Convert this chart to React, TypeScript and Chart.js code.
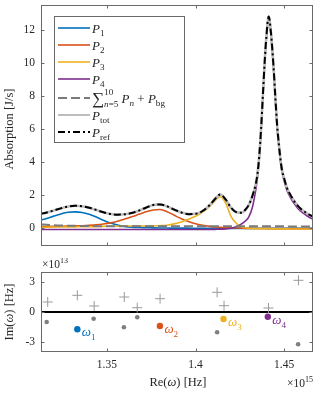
import React, { useEffect, useRef } from "react";
import { Chart, registerables } from "chart.js";

Chart.register(...registerables);

// ---------- data (frequency in units of 1e15 Hz) ----------
const FREQ = [
  1.3128, 1.316, 1.32, 1.324, 1.328, 1.332, 1.336, 1.34, 1.344, 1.348, 1.352, 1.356, 1.36, 1.364,
  1.368, 1.372, 1.376, 1.38, 1.384, 1.388, 1.392, 1.396, 1.4, 1.404, 1.408, 1.411, 1.414, 1.417,
  1.42, 1.423, 1.426, 1.428, 1.43, 1.432, 1.434, 1.435, 1.436, 1.437, 1.438, 1.439, 1.44, 1.4413,
  1.4425, 1.444, 1.445, 1.446, 1.447, 1.4485, 1.45, 1.4515, 1.4535, 1.4555, 1.458, 1.46, 1.463, 1.4663,
];

const P1 = [
  0.47, 0.57, 0.71, 0.84, 0.94, 0.97, 0.93, 0.82, 0.66, 0.46, 0.29, 0.17, 0.09, 0.04,
  0.02, 0.01, 0.0, -0.01, -0.01, -0.02, -0.02, -0.02, -0.03, -0.03, -0.03, -0.03, -0.03, -0.03,
  -0.03, -0.03, -0.03, -0.03, -0.03, -0.03, -0.03, -0.03, -0.03, -0.03, -0.03, -0.03, -0.03, -0.03,
  -0.03, -0.03, -0.03, -0.03, -0.03, -0.03, -0.03, -0.03, -0.03, -0.03, -0.03, -0.03, -0.03, -0.03,
];

const P2 = [
  0.08, 0.08, 0.09, 0.1, 0.11, 0.12, 0.13, 0.15, 0.18, 0.23, 0.3, 0.4, 0.53, 0.67,
  0.82, 0.97, 1.08, 1.11, 0.98, 0.76, 0.55, 0.38, 0.25, 0.16, 0.09, 0.05, 0.03, 0.01,
  0.0, -0.01, -0.02, -0.03, -0.03, -0.04, -0.04, -0.04, -0.04, -0.04, -0.04, -0.04, -0.04, -0.05,
  -0.05, -0.05, -0.05, -0.05, -0.05, -0.05, -0.05, -0.05, -0.05, -0.05, -0.05, -0.05, -0.05, -0.05,
];

const P3 = [
  0.04, 0.04, 0.05, 0.05, 0.06, 0.06, 0.07, 0.07, 0.08, 0.09, 0.1, 0.1, 0.11, 0.11,
  0.11, 0.11, 0.12, 0.13, 0.16, 0.24, 0.36, 0.52, 0.7, 0.95, 1.3, 1.65, 1.88, 1.5,
  0.7, 0.28, 0.07, 0.0, -0.03, -0.04, -0.05, -0.05, -0.05, -0.05, -0.05, -0.05, -0.05, -0.05,
  -0.06, -0.06, -0.06, -0.06, -0.06, -0.06, -0.06, -0.06, -0.07, -0.07, -0.07, -0.07, -0.07, -0.07,
];

const P4 = [
  -0.1, -0.1, -0.1, -0.1, -0.1, -0.1, -0.1, -0.1, -0.1, -0.1, -0.1, -0.1, -0.1, -0.1,
  -0.1, -0.1, -0.1, -0.1, -0.1, -0.1, -0.1, -0.1, -0.1, -0.1, -0.1, -0.09, -0.08, -0.06,
  -0.03, 0.06, 0.24, 0.4, 0.65, 1.2, 2.3, 3.05, 4.2, 5.85, 7.85, 9.85, 11.45, 12.65,
  11.75, 9.65, 7.85, 6.15, 4.95, 3.55, 2.85, 2.3, 1.85, 1.5, 1.15, 0.95, 0.72, 0.52,
];

const P_SUM_BG = [
  0.22, 0.19, 0.16, 0.14, 0.13, 0.12, 0.11, 0.11, 0.1, 0.1, 0.1, 0.1, 0.1, 0.1,
  0.1, 0.1, 0.1, 0.1, 0.1, 0.1, 0.1, 0.1, 0.1, 0.1, 0.1, 0.1, 0.1, 0.1,
  0.1, 0.1, 0.1, 0.1, 0.1, 0.1, 0.1, 0.1, 0.1, 0.1, 0.1, 0.1, 0.1, 0.1,
  0.1, 0.1, 0.09, 0.09, 0.09, 0.09, 0.09, 0.08, 0.08, 0.08, 0.08, 0.08, 0.08, 0.08,
];

const P_TOT = [
  0.85, 0.93, 1.05, 1.18, 1.29, 1.34, 1.31, 1.22, 1.08, 0.94, 0.84, 0.8, 0.82, 0.9,
  1.04, 1.22, 1.38, 1.42, 1.3, 1.1, 0.93, 0.83, 0.85, 1.02, 1.38, 1.75, 2.02, 1.72,
  1.22, 0.95, 0.92, 1.08, 1.38, 1.9, 2.65, 3.3, 4.4, 6.0, 8.0, 10.0, 11.6, 12.8,
  11.9, 9.8, 8.0, 6.3, 5.1, 3.7, 3.0, 2.45, 2.0, 1.65, 1.3, 1.1, 0.87, 0.67,
];

const P_REF = [
  0.85, 0.93, 1.05, 1.18, 1.29, 1.34, 1.31, 1.22, 1.08, 0.94, 0.84, 0.8, 0.82, 0.9,
  1.04, 1.22, 1.38, 1.42, 1.3, 1.1, 0.93, 0.83, 0.85, 1.02, 1.38, 1.75, 2.02, 1.72,
  1.22, 0.95, 0.92, 1.08, 1.38, 1.9, 2.65, 3.3, 4.4, 6.0, 8.0, 10.0, 11.6, 12.8,
  11.9, 9.8, 8.0, 6.3, 5.1, 3.7, 3.0, 2.45, 2.0, 1.65, 1.3, 1.1, 0.87, 0.67,
];

// poles: Re in 1e15 Hz, Im in 1e13 Hz
const PLUS_RE = [1.3166, 1.3333, 1.3428, 1.3598, 1.3671, 1.38, 1.4122, 1.4161, 1.4412, 1.4581];
const PLUS_IM = [1.0, 1.67, 0.6, 1.5, 0.43, 1.33, 1.97, 0.63, 0.4, 3.17];
const GRAY_RE = [1.316, 1.3425, 1.3596, 1.3671, 1.4122, 1.4579];
const GRAY_IM = [-1.0, -0.67, -1.53, -0.53, -2.03, -3.23];
const OMEGA_RE = [1.3333, 1.3799, 1.4158, 1.4408];
const OMEGA_IM = [-1.73, -1.4, -0.7, -0.47];
const OMEGA_SUBS = ["1", "2", "3", "4"];

const X_MIN = 1.3128;
const X_MAX = 1.4663;
const X_TICKS = [1.35, 1.4, 1.45];
const X_TICK_LABELS = ["1.35", "1.4", "1.45"];
const Y_TOP_MIN = -1.1;
const Y_TOP_MAX = 13.5;
const Y_TOP_TICKS = [0, 2, 4, 6, 8, 10, 12];
const Y_TOP_TICK_LABELS = ["0", "2", "4", "6", "8", "10", "12"];
const Y_BOT_MIN = -4;
const Y_BOT_MAX = 4;
const Y_BOT_TICKS = [-3, 0, 3];
const Y_BOT_TICK_LABELS = ["-3", "0", "3"];

// ---------- styles ----------
const SERIF = '"Liberation Serif", "DejaVu Serif", "Times New Roman", serif';
const TXT = "#262626";
const FRAME = "#6a6a6a";
const C_BLUE = "#0072BD";
const C_ORANGE = "#D95319";
const C_YELLOW = "#EDB120";
const C_PURPLE = "#7E2F8E";
const C_DASH = "#7a7a7a";
const C_TOT = "#bdbdbd";
const OMEGA_COLORS = [C_BLUE, C_ORANGE, C_YELLOW, C_PURPLE];

type Seg = {
  t?: string;
  it?: boolean;
  sub?: boolean;
  sup?: boolean;
  size?: number;
  dy?: number;
  up?: Seg[];
  dn?: Seg[];
};

function drawRich(ctx: CanvasRenderingContext2D, segs: Seg[], x: number, y: number, base: number, draw = true): number {
  let cx = x;
  const small = base * 0.7;
  for (const s of segs) {
    if (s.up || s.dn) {
      const w1 = s.up ? drawRich(ctx, s.up, cx, y - base * 0.55, small, draw) - cx : 0;
      const w2 = s.dn ? drawRich(ctx, s.dn, cx, y + base * 0.32, small, draw) - cx : 0;
      cx += Math.max(w1, w2);
      continue;
    }
    const size = s.size ?? (s.sub || s.sup ? small : base);
    ctx.font = `${s.it ? "italic " : ""}${size}px ${SERIF}`;
    const dy = (s.sub ? base * 0.3 : s.sup ? -base * 0.42 : 0) + (s.dy ?? 0);
    if (draw) ctx.fillText(s.t || "", cx, y + dy);
    cx += ctx.measureText(s.t || "").width;
  }
  return cx;
}

function drawRotated(ctx: CanvasRenderingContext2D, segs: Seg[], cx: number, cy: number, base: number) {
  ctx.save();
  ctx.translate(cx, cy);
  ctx.rotate(-Math.PI / 2);
  const w = drawRich(ctx, segs, 0, 0, base, false);
  ctx.textBaseline = "middle";
  drawRich(ctx, segs, -w / 2, 0, base, true);
  ctx.restore();
}

function drawFrame(chart: any, tickLen: number) {
  const { ctx, chartArea: a, scales } = chart;
  const L = Math.round(a.left) + 0.5;
  const R = Math.round(a.right) - 0.5;
  const T = Math.round(a.top) + 0.5;
  const B = Math.round(a.bottom) - 0.5;
  ctx.save();
  ctx.strokeStyle = FRAME;
  ctx.lineWidth = 1;
  ctx.setLineDash([]);
  ctx.strokeRect(L, T, R - L, B - T);
  ctx.beginPath();
  for (const t of scales.x.ticks) {
    const px = Math.round(scales.x.getPixelForValue(t.value)) + 0.5;
    ctx.moveTo(px, B);
    ctx.lineTo(px, B - tickLen);
    ctx.moveTo(px, T);
    ctx.lineTo(px, T + tickLen);
  }
  for (const t of scales.y.ticks) {
    const py = Math.round(scales.y.getPixelForValue(t.value)) + 0.5;
    ctx.moveTo(L, py);
    ctx.lineTo(L + tickLen, py);
    ctx.moveTo(R, py);
    ctx.lineTo(R - tickLen, py);
  }
  ctx.stroke();
  ctx.restore();
}

const LEGEND_ITEMS: { segs: Seg[]; color: string; width: number; dash: number[]; y: number }[] = [
  { segs: [{ t: "P", it: true }, { t: "1", sub: true }], color: C_BLUE, width: 1.6, dash: [], y: 28 },
  { segs: [{ t: "P", it: true }, { t: "2", sub: true }], color: C_ORANGE, width: 1.6, dash: [], y: 45 },
  { segs: [{ t: "P", it: true }, { t: "3", sub: true }], color: C_YELLOW, width: 1.6, dash: [], y: 62 },
  { segs: [{ t: "P", it: true }, { t: "4", sub: true }], color: C_PURPLE, width: 1.6, dash: [], y: 79 },
  {
    segs: [
      { t: "∑", size: 17, dy: 1.5 },
      { up: [{ t: "10" }], dn: [{ t: "n", it: true }, { t: "=5" }] },
      { t: " " },
      { t: "P", it: true },
      { t: "n", it: true, sub: true },
      { t: " + " },
      { t: "P", it: true },
      { t: "bg", sub: true },
    ],
    color: C_DASH,
    width: 2,
    dash: [9, 4],
    y: 98,
  },
  { segs: [{ t: "P", it: true }, { t: "tot", sub: true }], color: C_TOT, width: 2, dash: [], y: 115 },
  { segs: [{ t: "P", it: true }, { t: "ref", sub: true }], color: "#000", width: 2, dash: [7, 3, 2, 3], y: 132 },
];

const topPlugin = {
  id: "topDecor",
  afterDraw(chart: any) {
    const ctx: CanvasRenderingContext2D = chart.ctx;
    drawFrame(chart, 3);
    // legend
    ctx.save();
    ctx.fillStyle = "#fff";
    ctx.fillRect(54, 16, 131, 127);
    ctx.strokeStyle = FRAME;
    ctx.lineWidth = 1;
    ctx.strokeRect(54.5, 16.5, 130, 126);
    for (const it of LEGEND_ITEMS) {
      ctx.beginPath();
      ctx.strokeStyle = it.color;
      ctx.lineWidth = it.width;
      ctx.setLineDash(it.dash);
      ctx.moveTo(58, it.y);
      ctx.lineTo(90, it.y);
      ctx.stroke();
      ctx.setLineDash([]);
      ctx.fillStyle = TXT;
      ctx.textBaseline = "alphabetic";
      drawRich(ctx, it.segs, 92, it.y + 4.5, 13);
    }
    // y title
    ctx.fillStyle = TXT;
    drawRotated(ctx, [{ t: "Absorption [J/s]" }], 10, 129, 12.5);
    ctx.restore();
  },
};

const botPlugin = {
  id: "botDecor",
  afterDraw(chart: any) {
    const ctx: CanvasRenderingContext2D = chart.ctx;
    drawFrame(chart, 3);
    ctx.save();
    // omega labels
    const meta = OMEGA_RE.map((_, i) => chart.getDatasetMeta(3 + i));
    meta.forEach((m: any, i: number) => {
      const p = m.data[0];
      ctx.fillStyle = OMEGA_COLORS[i];
      ctx.textBaseline = "alphabetic";
      drawRich(ctx, [{ t: "ω", it: true }, { t: OMEGA_SUBS[i], sub: true }], p.x + 4.5, p.y + 7, 13);
    });
    ctx.fillStyle = TXT;
    ctx.textBaseline = "alphabetic";
    // exponent labels
    drawRich(ctx, [{ t: "×10" }, { t: "13", sup: true }], 42, 10, 11.5);
    const w = drawRich(ctx, [{ t: "×10" }, { t: "15", sup: true }], 0, 0, 11.5, false);
    drawRich(ctx, [{ t: "×10" }, { t: "15", sup: true }], 313 - w, 129, 11.5);
    // x title
    const segsX: Seg[] = [{ t: "Re(" }, { t: "ω", it: true }, { t: ") [Hz]" }];
    const wx = drawRich(ctx, segsX, 0, 0, 12.5, false);
    drawRich(ctx, segsX, 178 - wx / 2, 128, 12.5);
    // y title
    drawRotated(ctx, [{ t: "Im(" }, { t: "ω", it: true }, { t: ") [Hz]" }], 10, 54, 12.5);
    ctx.restore();
  },
};

const tickFont = { family: SERIF, size: 11.5 };

function fixedTicks(values: number[]) {
  return (scale: any) => {
    scale.ticks = values.map((v) => ({ value: v }));
  };
}

export default function App() {
  const topRef = useRef<HTMLCanvasElement>(null);
  const botRef = useRef<HTMLCanvasElement>(null);

  useEffect(() => {
    const pts = (ys: number[]) => FREQ.map((x, i) => ({ x, y: ys[i] }));
    const lineDs = (label: string, ys: number[], color: string, width: number, dash: number[], order: number) => ({
      label,
      data: pts(ys),
      borderColor: color,
      backgroundColor: color,
      borderWidth: width,
      borderDash: dash,
      pointRadius: 0,
      fill: false,
      cubicInterpolationMode: "monotone" as const,
      order,
    });

    const top = new Chart(topRef.current!, {
      type: "line",
      data: {
        datasets: [
          lineDs("P1", P1, C_BLUE, 1.6, [], 7),
          lineDs("P2", P2, C_ORANGE, 1.6, [], 6),
          lineDs("P3", P3, C_YELLOW, 1.6, [], 5),
          lineDs("P4", P4, C_PURPLE, 1.6, [], 4),
          lineDs("sum", P_SUM_BG, C_DASH, 2, [9, 4], 3),
          lineDs("Ptot", P_TOT, C_TOT, 2.6, [], 2),
          lineDs("Pref", P_REF, "#000", 2, [7, 3, 2, 3], 1),
        ],
      },
      options: {
        responsive: false,
        animation: false,
        devicePixelRatio: 1,
        layout: { padding: { left: 0, top: 5, right: 11, bottom: 12 } },
        plugins: { legend: { display: false }, tooltip: { enabled: false } },
        scales: {
          x: {
            type: "linear",
            min: X_MIN,
            max: X_MAX,
            afterBuildTicks: fixedTicks(X_TICKS),
            ticks: { display: false },
            grid: { display: false, drawTicks: false },
            border: { display: false },
            afterFit: (s: any) => {
              s.height = 0;
              s.paddingLeft = 0;
              s.paddingRight = 0;
            },
          },
          y: {
            type: "linear",
            min: Y_TOP_MIN,
            max: Y_TOP_MAX,
            afterBuildTicks: fixedTicks(Y_TOP_TICKS),
            ticks: {
              font: tickFont,
              color: TXT,
              padding: 6,
              callback: (_v: any, i: number) => Y_TOP_TICK_LABELS[i],
            },
            grid: { display: false, drawTicks: false },
            border: { display: false },
            afterFit: (s: any) => {
              s.width = 41;
              s.paddingTop = 0;
              s.paddingBottom = 0;
            },
          },
        },
      },
      plugins: [topPlugin],
    } as any);

    const xy = (xs: number[], ys: number[]) => xs.map((x, i) => ({ x, y: ys[i] }));

    const bot = new Chart(botRef.current!, {
      type: "scatter",
      data: {
        datasets: [
          {
            type: "line",
            label: "zero",
            data: [
              { x: X_MIN, y: 0 },
              { x: X_MAX, y: 0 },
            ],
            borderColor: "#000",
            borderWidth: 1.8,
            pointRadius: 0,
            order: 9,
          },
          {
            label: "plus",
            data: xy(PLUS_RE, PLUS_IM),
            pointStyle: "cross",
            pointRadius: 5,
            borderColor: "#9a9a9a",
            backgroundColor: "#9a9a9a",
            borderWidth: 1,
            order: 8,
          },
          {
            label: "gray",
            data: xy(GRAY_RE, GRAY_IM),
            pointStyle: "circle",
            pointRadius: 2.3,
            borderWidth: 0,
            backgroundColor: "#7f7f7f",
            order: 7,
          },
          ...OMEGA_RE.map((re, i) => ({
            label: "w" + OMEGA_SUBS[i],
            data: [{ x: re, y: OMEGA_IM[i] }],
            pointStyle: "circle",
            pointRadius: 3.2,
            borderWidth: 0,
            backgroundColor: OMEGA_COLORS[i],
            order: 1 + i,
          })),
        ],
      },
      options: {
        responsive: false,
        animation: false,
        devicePixelRatio: 1,
        layout: { padding: { left: 0, top: 14, right: 11, bottom: 0 } },
        plugins: { legend: { display: false }, tooltip: { enabled: false } },
        scales: {
          x: {
            type: "linear",
            min: X_MIN,
            max: X_MAX,
            afterBuildTicks: fixedTicks(X_TICKS),
            ticks: {
              font: tickFont,
              color: TXT,
              padding: 6,
              maxRotation: 0,
              callback: (_v: any, i: number) => X_TICK_LABELS[i],
            },
            grid: { display: false, drawTicks: false },
            border: { display: false },
            afterFit: (s: any) => {
              s.height = 44;
              s.paddingLeft = 0;
              s.paddingRight = 0;
            },
          },
          y: {
            type: "linear",
            min: Y_BOT_MIN,
            max: Y_BOT_MAX,
            afterBuildTicks: fixedTicks(Y_BOT_TICKS),
            ticks: {
              font: tickFont,
              color: TXT,
              padding: 6,
              callback: (_v: any, i: number) => Y_BOT_TICK_LABELS[i],
            },
            grid: { display: false, drawTicks: false },
            border: { display: false },
            afterFit: (s: any) => {
              s.width = 41;
              s.paddingTop = 0;
              s.paddingBottom = 0;
            },
          },
        },
      },
      plugins: [botPlugin],
    } as any);

    return () => {
      top.destroy();
      bot.destroy();
    };
  }, []);

  return (
    <div style={{ position: "fixed", left: 0, top: 0, width: 324, height: 396, background: "#fff" }}>
      <canvas
        ref={topRef}
        width={324}
        height={258}
        style={{ position: "absolute", left: 0, top: 0, width: 324, height: 258 }}
      />
      <canvas
        ref={botRef}
        width={324}
        height={138}
        style={{ position: "absolute", left: 0, top: 258, width: 324, height: 138 }}
      />
    </div>
  );
}
